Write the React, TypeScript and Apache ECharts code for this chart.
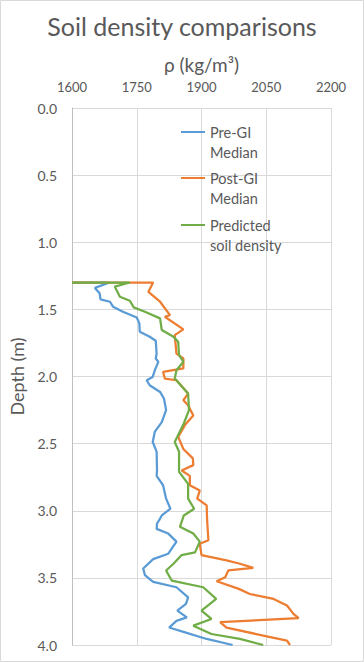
import React, { useEffect, useRef } from 'react';
import * as echarts from 'echarts';

const seriesNames = ['Pre-GI Median', 'Post-GI Median', 'Predicted soil density'];
const legendLabels = ['\nPre-GI\nMedian', '\nPost-GI\nMedian', '\nPredicted\nsoil density'];
const colors = ['#5B9BD5', '#ED7D31', '#70AD47'];

const preDepth = [1.3, 1.3, 1.34, 1.38, 1.425, 1.443, 1.48, 1.518, 1.56, 1.604, 1.667, 1.704, 1.734, 1.83, 1.866, 1.891, 1.953, 2.003, 2.028, 2.065, 2.115, 2.164, 2.25, 2.34, 2.41, 2.488, 2.56, 2.7, 2.74, 2.81, 2.91, 2.985, 3.035, 3.07, 3.095, 3.135, 3.17, 3.23, 3.32, 3.36, 3.43, 3.48, 3.53, 3.57, 3.645, 3.694, 3.744, 3.794, 3.82, 3.87, 3.906, 3.955, 4.0];
const preDensity = [1600, 1687, 1653, 1664, 1666, 1688, 1695, 1718, 1750, 1756, 1757, 1780, 1794, 1796, 1794, 1800, 1792, 1787, 1773, 1780, 1804, 1813, 1818, 1808, 1792, 1787, 1796, 1797, 1796, 1811, 1818, 1828, 1808, 1802, 1797, 1796, 1823, 1842, 1823, 1788, 1765, 1769, 1788, 1842, 1869, 1864, 1844, 1866, 1842, 1825, 1862, 1912, 1972];

const postDepth = [1.3, 1.3, 1.369, 1.443, 1.543, 1.555, 1.649, 1.692, 1.83, 1.866, 1.94, 1.966, 2.015, 2.028, 2.127, 2.177, 2.214, 2.29, 2.36, 2.45, 2.54, 2.61, 2.66, 2.7, 2.74, 2.81, 2.85, 2.91, 2.96, 3.07, 3.12, 3.22, 3.246, 3.33, 3.37, 3.395, 3.425, 3.445, 3.495, 3.525, 3.58, 3.62, 3.657, 3.706, 3.768, 3.8, 3.83, 3.87, 3.93, 3.968, 4.0];
const postDensity = [1600, 1788, 1777, 1804, 1827, 1815, 1858, 1838, 1842, 1858, 1858, 1811, 1815, 1842, 1869, 1858, 1869, 1881, 1862, 1846, 1858, 1880, 1881, 1854, 1873, 1873, 1896, 1890, 1912, 1913, 1914, 1916, 1896, 1900, 1958, 1989, 2020, 1962, 1955, 1935, 1985, 2012, 2067, 2098, 2113, 2125, 1943, 1958, 2043, 2098, 2105];

const predDepth = [1.3, 1.3, 1.33, 1.406, 1.436, 1.485, 1.518, 1.567, 1.654, 1.704, 1.742, 1.84, 1.89, 1.953, 2.015, 2.127, 2.25, 2.35, 2.488, 2.56, 2.71, 2.8, 2.91, 2.985, 3.035, 3.12, 3.17, 3.23, 3.31, 3.33, 3.395, 3.445, 3.52, 3.57, 3.657, 3.744, 3.806, 3.856, 3.918, 3.955, 4.0];
const predDensity = [1600, 1734, 1699, 1711, 1734, 1743, 1769, 1804, 1808, 1835, 1846, 1848, 1858, 1842, 1838, 1869, 1871, 1859, 1838, 1848, 1848, 1869, 1869, 1883, 1859, 1850, 1881, 1896, 1885, 1854, 1835, 1818, 1831, 1904, 1934, 1900, 1923, 1881, 1923, 1989, 2043];

const zip = (xs: number[], ys: number[]) => xs.map((x, i) => [x, ys[i]]);

const FONT = 'Lato, "Open Sans", sans-serif';
const TEXT = '#595959';

export default function App() {
  const ref = useRef<HTMLDivElement>(null);
  useEffect(() => {
    if (!ref.current) return;
    const chart = echarts.init(ref.current, undefined, { renderer: 'svg' });
    const datasets = [zip(preDensity, preDepth), zip(postDensity, postDepth), zip(predDensity, predDepth)];
    const legendTops = [102, 148, 195];
    chart.setOption({
      animation: false,
      backgroundColor: '#ffffff',
      textStyle: { fontFamily: FONT },
      title: {
        text: 'Soil density comparisons',
        left: 'center',
        top: 8,
        textStyle: { fontFamily: FONT, fontSize: 25, fontWeight: 'normal', color: TEXT },
      },
      legend: seriesNames.map((n, i) => ({
        data: [n],
        orient: 'vertical',
        left: 181,
        top: legendTops[i],
        padding: 0,
        icon: 'rect',
        itemWidth: 24,
        itemHeight: 2,
        selectedMode: false,
        formatter: () => legendLabels[i],
        textStyle: { fontFamily: FONT, fontSize: 14.5, color: TEXT, lineHeight: 20 },
      })),
      grid: { left: 72, right: 33, top: 108, bottom: 17, containLabel: false },
      xAxis: {
        type: 'value',
        position: 'top',
        min: 1600,
        max: 2200,
        interval: 150,
        name: 'ρ (kg/m³)',
        nameLocation: 'middle',
        nameGap: 34,
        nameTextStyle: { fontFamily: FONT, fontSize: 19, color: TEXT },
        axisLabel: { fontFamily: FONT, fontSize: 13, color: TEXT, margin: 15, formatter: (v: number) => String(v) },
        axisLine: { show: false },
        axisTick: { show: false },
        splitLine: { show: true, lineStyle: { color: '#d9d9d9', width: 1 } },
      },
      yAxis: {
        type: 'value',
        inverse: true,
        min: 0,
        max: 4,
        interval: 0.5,
        name: 'Depth (m)',
        nameLocation: 'middle',
        nameGap: 46,
        nameTextStyle: { fontFamily: FONT, fontSize: 18, color: TEXT },
        axisLabel: { fontFamily: FONT, fontSize: 14, color: TEXT, margin: 15, formatter: (v: number) => v.toFixed(1) },
        axisLine: { show: true, lineStyle: { color: '#bfbfbf', width: 1 } },
        axisTick: { show: false },
        splitLine: { show: true, lineStyle: { color: '#d9d9d9', width: 1 } },
      },
      graphic: [
        {
          type: 'rect',
          shape: { x: 0.5, y: 0.5, width: 363, height: 661 },
          style: { fill: 'none', stroke: '#d9d9d9', lineWidth: 1 },
          silent: true,
          z: -1,
        },
      ],
      series: seriesNames.map((n, i) => ({
        name: n,
        type: 'line',
        data: datasets[i],
        showSymbol: false,
        symbol: 'none',
        lineStyle: { color: colors[i], width: 2.25 },
        itemStyle: { color: colors[i] },
        clip: true,
      })),
    });
    return () => chart.dispose();
  }, []);
  return <div ref={ref} style={{ position: 'absolute', left: 0, top: 0, width: 364, height: 662 }} />;
}
